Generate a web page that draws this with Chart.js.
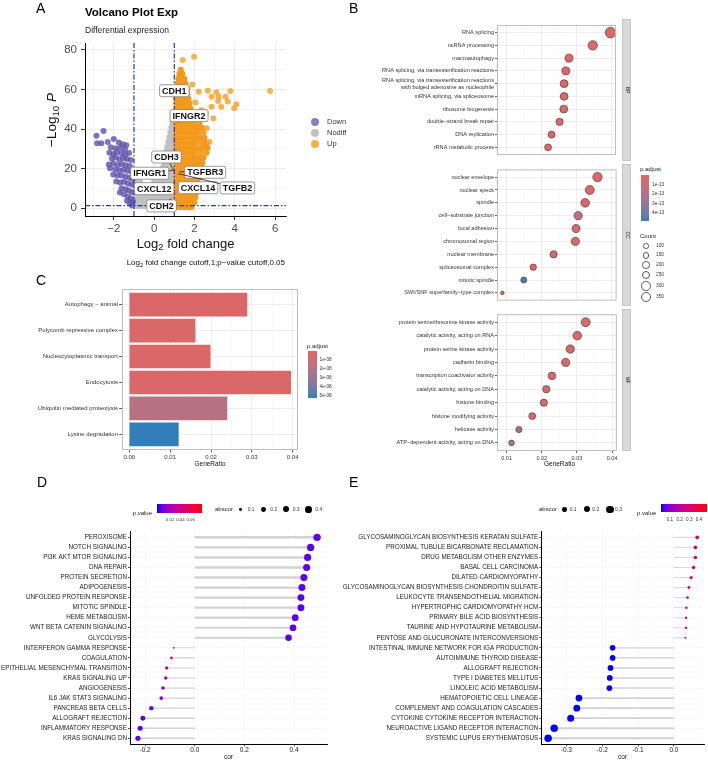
<!DOCTYPE html>
<html>
<head>
<meta charset="utf-8">
<title>Figure</title>
<script src="https://cdn.jsdelivr.net/npm/chart.js@4.4.1/dist/chart.umd.min.js"></script>
<style>
  body { margin: 0; background: #fff; }
  #fig { position: relative; width: 708px; height: 761px; overflow: hidden; font-family: 'Liberation Sans', Arial, Helvetica, sans-serif; color: #1a1a1a; }
  #fig canvas { position: absolute; }
  #fig div { position: absolute; white-space: nowrap; line-height: 1; }
  #fig sub { font-size: 0.72em; vertical-align: -0.3em; line-height: 0; }
</style>
</head>
<body>
<div id="fig"></div>
<script>
// ---------- A: volcano ----------
// down-regulated genes [log2FC, -log10 P]
const volcanoDown = [[-2.51,39.1],[-2.86,36.7],[-2.83,32.8],[-2.62,32.8],[-2.3,33.5],[-2.0,35.0],[-1.75,33.2],[-1.55,32.4],[-1.38,31.8],
  [-2.15,30.8],[-1.92,30.3],[-1.68,30.6],[-1.45,29.7],[-2.22,28.1],[-2.02,27.4],[-1.84,28.4],[-1.63,27.8],[-1.43,27.2],[-1.24,27.9],
  [-2.1,25.1],[-1.91,25.6],[-1.73,24.8],[-1.54,25.4],[-1.35,24.9],[-1.16,24.4],[-2.25,22.1],[-2.02,22.6],[-1.8,21.9],[-1.6,22.4],
  [-1.41,21.8],[-1.21,21.4],[-2.19,20.2],[-1.93,19.6],[-1.72,19.1],[-1.52,19.5],[-1.32,18.9],[-1.12,18.4],[-2.03,17.1],[-1.82,16.5],
  [-1.62,16.6],[-1.42,16.0],[-1.22,15.4],[-1.06,14.9],[-1.88,13.5],[-1.68,13.0],[-1.49,13.4],[-1.3,12.5],[-1.11,12.0],[-1.62,10.1],
  [-1.41,9.6],[-1.26,9.0],[-1.09,8.1],[-1.7,8.0],[-1.5,7.1],[-1.31,6.0],[-1.16,5.0],[-1.05,3.6],[-1.21,2.6],[-1.1,1.4],[-1.35,3.8]];
// not significant genes, rows of [-log10 P, log2FC...]
const volcanoNodiffRows = [
  [1, -0.9,-0.7,-0.5,-0.3,-0.1,0.1,0.3,0.5,0.7,0.88],
  [3.5, -0.85,-0.62,-0.42,-0.22,-0.02,0.18,0.38,0.58,0.78,0.92],
  [6, -0.9,-0.7,-0.5,-0.3,-0.1,0.1,0.3,0.5,0.7,0.9],
  [8.5, -0.8,-0.58,-0.38,-0.18,0.02,0.22,0.42,0.62,0.82,0.92],
  [11, -0.95,-0.75,-0.45,-0.15,0.1,0.3,0.5,0.7,0.9],
  [13.5, -0.92,-0.7,0.0,0.3,0.5,0.7,0.9],
  [16, -0.96,0.2,0.4,0.6,0.8,0.92],
  [18.5, 0.35,0.55,0.75,0.92],
  [21, 0.45,0.65,0.85],
  [23.5, 0.5,0.7,0.9],
  [26, 0.55,0.75,0.92],
  [28.5, 0.6,0.8,0.93],
  [31, 0.65,0.85],
  [33.5, 0.7,0.9],
  [36, 0.75,0.92],
  [38.5, 0.8,0.94],
  [41, 0.85,0.95],
  [43.5, 0.9],
  [46, 0.93]];
// up-regulated genes, dense part, rows of [-log10 P, log2FC...]
const volcanoUpRows = [
  [0.5, 1.1,1.3,1.5,1.7,1.85],
  [3, 1.1,1.3,1.5,1.7,1.9,2.0],
  [5.5, 1.1,1.3,1.5,1.7,1.9,2.05],
  [8, 1.1,1.3,1.5,1.7,1.9,2.1],
  [10.5, 1.1,1.3,1.5,1.7,1.9,2.1],
  [13, 1.1,1.3,1.5,1.7,1.9,2.15],
  [15.5, 1.1,1.3,1.5,1.7,1.9,2.1,2.25],
  [18, 1.1,1.3,1.5,1.7,1.9,2.1,2.3],
  [20.5, 1.1,1.3,1.5,1.7,1.9,2.1,2.35],
  [23, 1.1,1.3,1.5,1.7,1.9,2.1,2.3,2.4],
  [25.5, 1.1,1.3,1.5,1.7,1.9,2.1,2.3,2.45],
  [28, 1.1,1.3,1.5,1.7,1.9,2.1,2.3,2.5,2.6],
  [30.5, 1.1,1.3,1.5,1.7,1.9,2.1,2.3,2.5,2.65],
  [33, 1.1,1.3,1.5,1.7,1.9,2.1,2.3,2.5,2.6],
  [35.5, 1.1,1.3,1.5,1.7,1.9,2.1,2.3,2.5],
  [38, 1.1,1.3,1.5,1.7,1.9,2.1,2.3,2.45],
  [40.5, 1.1,1.3,1.5,1.7,1.9,2.1,2.3,2.4],
  [43, 1.1,1.3,1.5,1.7,1.9,2.1,2.25],
  [45.5, 1.1,1.3,1.5,1.7,1.9,2.05],
  [48, 1.1,1.3,1.5,1.7,1.9],
  [50.5, 1.1,1.3,1.5,1.7,1.8],
  [53, 1.1,1.3,1.5,1.7,1.75],
  [55.5, 1.1,1.3,1.5,1.7],
  [58, 1.1,1.3,1.5,1.65],
  [60.5, 1.1,1.3,1.5,1.65],
  [63, 1.15,1.35,1.55],
  [65.5, 1.2,1.35,1.5],
  [68, 1.25,1.4],
  [70, 1.32]];
// up-regulated genes, isolated points
const volcanoUpSparse = [[1.42,74.9],[1.98,76.6],[5.75,59.3],[2.21,58.9],[2.66,59.4],[3.09,58.6],[3.78,59.3],[2.85,56.4],[3.2,56.4],
  [3.54,56.4],[3.17,54.2],[3.65,53.9],[4.08,52.5],[2.85,51.3],[3.33,51.3],[3.97,50.5],[2.56,48.0],[2.93,45.5],[2.18,43.8],[2.61,40.4],
  [2.37,37.9],[2.21,32.5],[2.46,28.3],[2.18,27.8],[1.9,62.5],[2.05,53.5],[2.35,49.5],[2.75,33.5]];
const geneNames = ['CDH1','IFNGR2','CDH3','TGFBR3','IFNGR1','CXCL12','CXCL14','TGFB2','CDH2'];
const geneLabelX = [1.0, 1.73, 0.61, 2.53, -0.22, 0.0, 2.18, 4.13, 0.37];
const geneLabelY = [59.4, 46.8, 25.9, 18.2, 17.7, 9.9, 10.4, 10.3, 1.2];
const genePointX = [1.35, 1.15, 0.95, 1.25, 0.98, 0.98, 1.2, 1.2, 0.85];
const genePointY = [62.5, 43.5, 19.5, 18.5, 19.3, 10.5, 12, 17.5, 5];
const fcCutoff = 1;
const pCutoff = 0.05;
const volcanoXRange = [-3.43, 6.54];
const volcanoYRange = [-3.9, 83.5];
const volcanoXTicks = [-3, -2, -1, 0, 1, 2, 3, 4, 5, 6];
const volcanoXLabels = [-2, 0, 2, 4, 6];
const volcanoYTicks = [0, 10, 20, 30, 40, 50, 60, 70, 80];
const volcanoYLabels = [0, 20, 40, 60, 80];

// ---------- B: GO dot plot ----------
const bpTerms = ['RNA splicing', 'ncRNA processing', 'macroautophagy', 'RNA splicing, via transesterification reactions',
  ['RNA splicing, via transesterification reactions', 'with bulged adenosine as nucleophile'], 'mRNA splicing, via spliceosome',
  'ribosome biogenesis', 'double\u2212strand break repair', 'DNA replication', 'rRNA metabolic process'];
const bpRatio = [0.0398, 0.0347, 0.0279, 0.0270, 0.0265, 0.0265, 0.0264, 0.0252, 0.0229, 0.0219];
const bpCount = [385, 300, 220, 220, 215, 215, 215, 185, 170, 165];
const bpPadj = [0.2, 0.2, 0.3, 0.3, 0.3, 0.3, 0.3, 0.4, 0.4, 0.4]; // x 1e-13
const ccTerms = ['nuclear envelope', 'nuclear speck', 'spindle', 'cell\u2212substrate junction', 'focal adhesion', 'chromosomal region',
  'nuclear membrane', 'spliceosomal complex', 'mitotic spindle', 'SWI/SNF superfamily\u2212type complex'];
const ccRatio = [0.0359, 0.0337, 0.0324, 0.0304, 0.0298, 0.0296, 0.0234, 0.0176, 0.0149, 0.0088];
const ccCount = [300, 275, 255, 240, 220, 235, 185, 140, 125, 45];
const ccPadj = [0.3, 0.3, 0.4, 1.3, 0.9, 0.6, 0.4, 0.4, 4.8, 0.9];
const mfTerms = ['protein serine/threonine kinase activity', 'catalytic activity, acting on RNA', 'protein serine kinase activity',
  'cadherin binding', 'transcription coactivator activity', 'catalytic activity, acting on DNA', 'histone binding',
  'histone modifying activity', 'helicase activity', 'ATP\u2212dependent activity, acting on DNA'];
const mfRatio = [0.0325, 0.0301, 0.0281, 0.0268, 0.0229, 0.0213, 0.0206, 0.0173, 0.0135, 0.0114];
const mfCount = [275, 255, 240, 235, 200, 185, 180, 165, 135, 110];
const mfPadj = [0.4, 0.4, 0.5, 0.5, 0.5, 0.5, 0.6, 0.5, 2.8, 2.0];
const goPadjRange = [0, 5];
const goPadjLegend = ['1e-13', '2e-13', '3e-13', '4e-13'];
const goCountLegend = [100, 150, 200, 250, 300, 350];
const goXRange = [0.00727, 0.04136];
const goXTicks = [0.01, 0.015, 0.02, 0.025, 0.03, 0.035, 0.04];
const goXLabels = [0.01, 0.02, 0.03, 0.04];

// ---------- C: KEGG bar plot ----------
const keggTerms = ['Autophagy \u2212 animal', 'Polycomb repressive complex', 'Nucleocytoplasmic transport', 'Endocytosis',
  'Ubiquitin mediated proteolysis', 'Lysine degradation'];
const keggRatio = [0.0288, 0.0161, 0.0198, 0.0395, 0.0239, 0.0120];
const keggPadj = [0.3, 0.3, 0.3, 0.3, 1.8, 5.2]; // x 1e-8
const keggPadjRange = [0, 5.2];
const keggPadjLegend = ['1e-08', '2e-08', '3e-08', '4e-08', '5e-08'];
const keggXRange = [-0.0018, 0.0413];
const keggXTicks = [0, 0.005, 0.01, 0.015, 0.02, 0.025, 0.03, 0.035, 0.04];
const keggXLabels = [0, 0.01, 0.02, 0.03, 0.04];

// ---------- D: hallmark correlation ----------
const hallTerms = ['PEROXISOME', 'NOTCH SIGNALING', 'PI3K AKT MTOR SIGNALING', 'DNA REPAIR', 'PROTEIN SECRETION', 'ADIPOGENESIS',
  'UNFOLDED PROTEIN RESPONSE', 'MITOTIC SPINDLE', 'HEME METABOLISM', 'WNT BETA CATENIN SIGNALING', 'GLYCOLYSIS',
  'INTERFERON GAMMA RESPONSE', 'COAGULATION', 'EPITHELIAL MESENCHYMAL TRANSITION', 'KRAS SIGNALING UP', 'ANGIOGENESIS',
  'IL6 JAK STAT3 SIGNALING', 'PANCREAS BETA CELLS', 'ALLOGRAFT REJECTION', 'INFLAMMATORY RESPONSE', 'KRAS SIGNALING DN'];
const hallCor = [0.493, 0.467, 0.455, 0.451, 0.440, 0.432, 0.428, 0.428, 0.405, 0.396, 0.378,
  -0.085, -0.094, -0.113, -0.117, -0.128, -0.135, -0.175, -0.209, -0.220, -0.229];
const hallPval = [0.0005, 0.0005, 0.0005, 0.0005, 0.0005, 0.0005, 0.0005, 0.0005, 0.0005, 0.0005, 0.0005,
  0.082, 0.075, 0.03, 0.027, 0.016, 0.013, 0.004, 0.001, 0.001, 0.001];
const hallPRange = [-0.006, 0.0824];
const hallPLegend = [0.02, 0.04, 0.06];
const hallAbsLegend = [0.1, 0.2, 0.3, 0.4];
const hallXRange = [-0.261, 0.533];
const hallXTicks = [-0.2, 0, 0.2, 0.4];

// ---------- E: KEGG correlation ----------
const keggCorTerms = ['GLYCOSAMINOGLYCAN BIOSYNTHESIS KERATAN SULFATE', 'PROXIMAL TUBULE BICARBONATE RECLAMATION',
  'DRUG METABOLISM OTHER ENZYMES', 'BASAL CELL CARCINOMA', 'DILATED CARDIOMYOPATHY',
  'GLYCOSAMINOGLYCAN BIOSYNTHESIS CHONDROITIN SULFATE', 'LEUKOCYTE TRANSENDOTHELIAL MIGRATION',
  'HYPERTROPHIC CARDIOMYOPATHY HCM', 'PRIMARY BILE ACID BIOSYNTHESIS', 'TAURINE AND HYPOTAURINE METABOLISM',
  'PENTOSE AND GLUCURONATE INTERCONVERSIONS', 'INTESTINAL IMMUNE NETWORK FOR IGA PRODUCTION', 'AUTOIMMUNE THYROID DISEASE',
  'ALLOGRAFT REJECTION', 'TYPE I DIABETES MELLITUS', 'LINOLEIC ACID METABOLISM', 'HEMATOPOIETIC CELL LINEAGE',
  'COMPLEMENT AND COAGULATION CASCADES', 'CYTOKINE CYTOKINE RECEPTOR INTERACTION', 'NEUROACTIVE LIGAND RECEPTOR INTERACTION',
  'SYSTEMIC LUPUS ERYTHEMATOSUS'];
const keggCor = [0.065, 0.060, 0.060, 0.055, 0.048, 0.042, 0.038, 0.035, 0.034, 0.034, 0.032,
  -0.171, -0.171, -0.177, -0.179, -0.180, -0.265, -0.271, -0.288, -0.334, -0.351];
const keggPval = [0.26, 0.28, 0.29, 0.32, 0.35, 0.38, 0.40, 0.42, 0.46, 0.47, 0.48,
  0.002, 0.002, 0.002, 0.002, 0.002, 0.001, 0.001, 0.001, 0.001, 0.001];
const keggPRange = [0.004, 0.48];
const keggPLegend = [0.1, 0.2, 0.3, 0.4];
const keggAbsLegend = [0.1, 0.2, 0.3];
const keggCorXRange = [-0.37, 0.084];
const keggCorXTicks = [-0.3, -0.2, -0.1, 0];

// ---------- helpers ----------
const FONT = "'Liberation Sans', Arial, Helvetica, sans-serif";
Chart.defaults.font.family = FONT;
Chart.defaults.animation = false;
Chart.defaults.events = [];
Chart.defaults.plugins.legend.display = false;
Chart.defaults.plugins.tooltip.enabled = false;

const fig = document.getElementById('fig');
const near = (arr, v) => arr.some(a => Math.abs(a - v) < 1e-9);
const setTicks = vals => s => { s.ticks = vals.map(v => ({ value: v })); };
const fixX = h => s => { s.height = h; s.paddingLeft = 0; s.paddingRight = 0; };
const fixY = w => s => { s.width = w; s.paddingTop = 0; s.paddingBottom = 0; };
const rows = r => r.flatMap(([y, ...xs]) => xs.map(x => ({ x, y })));
const pairs = p => p.map(([x, y]) => ({ x, y }));

function canvasAt(x, y, w, h) {
  const c = document.createElement('canvas');
  c.width = w; c.height = h;
  c.style.left = x + 'px'; c.style.top = y + 'px';
  c.style.width = w + 'px'; c.style.height = h + 'px';
  fig.appendChild(c);
  return c;
}
function put(html, x, y, size, anchor, extra) {
  const d = document.createElement('div');
  const tx = anchor === 'c' ? '-50%' : anchor === 'r' ? '-100%' : '0';
  d.style.cssText = `left:${x}px;top:${y}px;font-size:${size}px;transform:translate(${tx},-50%);${extra || ''}`;
  d.innerHTML = html;
  fig.appendChild(d);
  return d;
}
function box(x, y, w, h, css) {
  const d = document.createElement('div');
  d.style.cssText = `left:${x}px;top:${y}px;width:${w}px;height:${h}px;${css}`;
  fig.appendChild(d);
  return d;
}

// colour ramps interpolated in CIELAB, like ggplot's gradients
function toLab(hex) {
  const [r, g, b] = [1, 3, 5].map(i => parseInt(hex.slice(i, i + 2), 16) / 255)
    .map(c => c <= 0.04045 ? c / 12.92 : Math.pow((c + 0.055) / 1.055, 2.4));
  const X = (0.4124 * r + 0.3576 * g + 0.1805 * b) / 0.95047;
  const Y = 0.2126 * r + 0.7152 * g + 0.0722 * b;
  const Z = (0.0193 * r + 0.1192 * g + 0.9505 * b) / 1.08883;
  const f = t => t > 0.008856 ? Math.cbrt(t) : 7.787 * t + 16 / 116;
  return [116 * f(Y) - 16, 500 * (f(X) - f(Y)), 200 * (f(Y) - f(Z))];
}
function fromLab([L, a, bb]) {
  const fy = (L + 16) / 116, fx = fy + a / 500, fz = fy - bb / 200;
  const inv = t => t * t * t > 0.008856 ? t * t * t : (t - 16 / 116) / 7.787;
  const X = inv(fx) * 0.95047, Y = inv(fy), Z = inv(fz) * 1.08883;
  const lin = [3.2406 * X - 1.5372 * Y - 0.4986 * Z, -0.9689 * X + 1.8758 * Y + 0.0415 * Z, 0.0557 * X - 0.2040 * Y + 1.0570 * Z];
  return lin.map(c => {
    c = Math.max(0, c);
    c = c <= 0.0031308 ? 12.92 * c : 1.055 * Math.pow(c, 1 / 2.4) - 0.055;
    return Math.round(Math.max(0, Math.min(1, c)) * 255);
  });
}
function labRamp(lo, hi) {
  const a = toLab(lo), b = toLab(hi);
  return t => {
    t = Math.max(0, Math.min(1, t));
    return `rgb(${fromLab(a.map((v, i) => v + (b[i] - v) * t)).join(',')})`;
  };
}
const goRamp = labRamp('#e06663', '#327eba');
const pvRamp = labRamp('#0000ff', '#ff0000');
function gradCss(ramp, dir) {
  const stops = [];
  for (let k = 0; k <= 10; k++) stops.push(ramp(k / 10));
  return `linear-gradient(${dir}, ${stops.join(',')})`;
}

const framePlugin = {
  id: 'frame',
  afterDraw(chart) {
    const a = chart.chartArea, ctx = chart.ctx;
    ctx.save();
    ctx.strokeStyle = '#BDBDBD';
    ctx.lineWidth = 1;
    ctx.strokeRect(a.left + 0.5, a.top + 0.5, a.right - a.left - 1, a.bottom - a.top - 1);
    ctx.restore();
  }
};

// ---------- A ----------
const geneLabelPlugin = {
  id: 'geneLabels',
  afterDatasetsDraw(chart) {
    const ctx = chart.ctx, xs = chart.scales.x, ys = chart.scales.y;
    ctx.save();
    ctx.font = `bold 9px ${FONT}`;
    ctx.textAlign = 'center';
    ctx.textBaseline = 'middle';
    geneNames.forEach((name, i) => {
      const lx = xs.getPixelForValue(geneLabelX[i]), ly = ys.getPixelForValue(geneLabelY[i]);
      const px = xs.getPixelForValue(genePointX[i]), py = ys.getPixelForValue(genePointY[i]);
      ctx.strokeStyle = '#1a1a1a'; ctx.lineWidth = 0.8;
      ctx.beginPath(); ctx.moveTo(lx, ly); ctx.lineTo(px, py); ctx.stroke();
      const w = ctx.measureText(name).width + 5, h = 12;
      ctx.beginPath();
      if (ctx.roundRect) ctx.roundRect(lx - w / 2, ly - h / 2, w, h, 2); else ctx.rect(lx - w / 2, ly - h / 2, w, h);
      ctx.fillStyle = '#fff'; ctx.fill();
      ctx.strokeStyle = '#808080'; ctx.lineWidth = 0.8; ctx.stroke();
      ctx.fillStyle = '#111';
      ctx.fillText(name, lx, ly + 0.5);
    });
    ctx.restore();
  }
};

const pY = -Math.log10(pCutoff);
const cutStyle = { showLine: true, borderColor: '#2B33D9', borderWidth: 1.2, borderDash: [5, 2, 1.5, 2], pointRadius: 0 };
const downColor = 'rgba(96,80,172,0.8)', nodiffColor = 'rgb(192,192,192)', upColor = 'rgb(244,153,28)', upSparseColor = 'rgba(246,165,48,0.85)';
const minusFmt = v => v < 0 ? '\u2212' + Math.abs(v) : String(v);

new Chart(canvasAt(0, 0, 354, 250), {
  type: 'scatter',
  data: {
    datasets: [
      { ...cutStyle, data: [{ x: -fcCutoff, y: volcanoYRange[0] }, { x: -fcCutoff, y: volcanoYRange[1] }] },
      { ...cutStyle, data: [{ x: fcCutoff, y: volcanoYRange[0] }, { x: fcCutoff, y: volcanoYRange[1] }] },
      { ...cutStyle, data: [{ x: volcanoXRange[0], y: pY }, { x: volcanoXRange[1], y: pY }] },
      { data: pairs(volcanoUpSparse), backgroundColor: upSparseColor, pointRadius: 3, borderWidth: 0 },
      { data: rows(volcanoUpRows), backgroundColor: upColor, pointRadius: 3, borderWidth: 0 },
      { data: pairs(volcanoDown), backgroundColor: downColor, pointRadius: 3, borderWidth: 0 },
      { data: rows(volcanoNodiffRows), backgroundColor: nodiffColor, pointRadius: 3, borderWidth: 0 }
    ]
  },
  options: {
    responsive: false,
    layout: { padding: { left: 0, top: 43, right: 68, bottom: 14 } },
    scales: {
      x: {
        type: 'linear', min: volcanoXRange[0], max: volcanoXRange[1],
        afterBuildTicks: setTicks(volcanoXTicks), afterFit: fixX(20),
        ticks: { callback: v => near(volcanoXLabels, v) ? minusFmt(v) : '', color: '#4d4d4d', font: { size: 11.5 }, padding: 2, autoSkip: false, maxRotation: 0 },
        grid: {
          color: '#EBEBEB', lineWidth: c => c.tick && near(volcanoXLabels, c.tick.value) ? 1 : 0.6,
          tickLength: 4, tickWidth: 1, tickColor: c => c.tick && near(volcanoXLabels, c.tick.value) ? '#333' : 'rgba(0,0,0,0)'
        },
        border: { color: '#000', width: 1 }
      },
      y: {
        type: 'linear', min: volcanoYRange[0], max: volcanoYRange[1],
        afterBuildTicks: setTicks(volcanoYTicks), afterFit: fixY(85),
        ticks: { callback: v => near(volcanoYLabels, v) ? String(v) : '', color: '#4d4d4d', font: { size: 11.5 }, padding: 4, autoSkip: false },
        grid: {
          color: '#EBEBEB', lineWidth: c => c.tick && near(volcanoYLabels, c.tick.value) ? 1 : 0.6,
          tickLength: 4, tickWidth: 1, tickColor: c => c.tick && near(volcanoYLabels, c.tick.value) ? '#333' : 'rgba(0,0,0,0)'
        },
        border: { color: '#000', width: 1 }
      }
    }
  },
  plugins: [geneLabelPlugin]
});

put('Volcano Plot Exp', 85, 12.5, 11.5, 'l', 'font-weight:bold;color:#000');
put('Differential expression', 85, 30, 8.5, 'l', 'color:#222');
put('\u2212Log<sub>10</sub> <i>P</i>', 52, 120, 13.5, 'c', 'transform:translate(-50%,-50%) rotate(-90deg);color:#111');
put('Log<sub>2</sub> fold change', 185.5, 243, 13, 'c', 'color:#111');
put('Log<sub>2</sub> fold change cutoff,1;p\u2212value cutoff,0.05', 285, 263, 8, 'r', 'color:#111');
[['Down', 'rgba(110,96,180,0.8)'], ['Nodiff', nodiffColor], ['Up', 'rgba(246,165,48,0.9)']].forEach(([name, col], i) => {
  box(311, 118 + i * 11, 8, 8, `border-radius:50%;background:${col}`);
  put(name, 327, 122 + i * 11, 7.5, 'l', 'color:#333');
});

// ---------- B ----------
const countRadius = c => 0.27 * Math.sqrt(c);
function goFacet(top, terms, ratio, count, padj, withAxis) {
  const n = terms.length;
  const h = 142 + (withAxis ? 13 : 0);
  return new Chart(canvasAt(354, top, 268, h), {
    type: 'scatter',
    data: {
      datasets: [{
        data: ratio.map((v, i) => ({ x: v, y: n - i })),
        pointRadius: count.map(countRadius),
        backgroundColor: padj.map(p => goRamp((p - goPadjRange[0]) / (goPadjRange[1] - goPadjRange[0]))),
        borderColor: 'rgba(70,45,45,0.85)', borderWidth: 0.7
      }]
    },
    options: {
      responsive: false,
      layout: { padding: 0 },
      scales: {
        x: {
          type: 'linear', min: goXRange[0], max: goXRange[1],
          afterBuildTicks: setTicks(goXTicks), afterFit: fixX(withAxis ? 13 : 0),
          ticks: { display: withAxis, callback: v => near(goXLabels, v) ? v.toFixed(2) : '', color: '#333', font: { size: 5.5 }, padding: 2, autoSkip: false, maxRotation: 0 },
          grid: {
            color: c => c.tick && near(goXLabels, c.tick.value) ? '#EBEBEB' : '#F3F3F3',
            lineWidth: c => c.tick && near(goXLabels, c.tick.value) ? 0.9 : 0.5,
            drawTicks: withAxis, tickLength: 2, tickWidth: 0.8,
            tickColor: c => c.tick && near(goXLabels, c.tick.value) ? '#333' : 'rgba(0,0,0,0)'
          },
          border: { display: false }
        },
        y: {
          type: 'linear', min: 0.4, max: n + 0.6,
          afterBuildTicks: setTicks(terms.map((t, i) => n - i)), afterFit: fixY(143),
          ticks: { callback: v => terms[n - Math.round(v)], color: '#333', font: { size: 5.6, lineHeight: 1.3 }, padding: 1, autoSkip: false },
          grid: { color: '#EBEBEB', lineWidth: 0.9, tickLength: 2, tickWidth: 0.8, tickColor: '#333' },
          border: { display: false }
        }
      }
    },
    plugins: [framePlugin]
  });
}
goFacet(19, bpTerms, bpRatio, bpCount, bpPadj, false);
goFacet(164, ccTerms, ccRatio, ccCount, ccPadj, false);
goFacet(309, mfTerms, mfRatio, mfCount, mfPadj, true);

[['BP', 19], ['CC', 164], ['MF', 309]].forEach(([name, top]) => {
  box(622, top, 9, 142, 'background:#D9D9D9;box-sizing:border-box;border:0.5px solid #C4C4C4');
  put(name, 626.5, top + 71, 5, 'c', 'transform:translate(-50%,-50%) rotate(90deg);color:#1a1a1a');
});
put('GeneRatio', 559.5, 463.5, 6.5, 'c', 'color:#111');
put('p.adjust', 640, 169, 6, 'l', 'color:#1a1a1a');
box(641, 175, 8, 46, `background:${gradCss(goRamp, 'to bottom')}`);
goPadjLegend.forEach((lab, i) => put(lab, 652, 185 + i * 9.3, 4.8, 'l', 'color:#333'));
put('Count', 640, 236, 6, 'l', 'color:#1a1a1a');
const countLegendY = [246, 255.3, 264.7, 275, 286, 297.3];
goCountLegend.forEach((c, i) => {
  const r = countRadius(c);
  box(646 - r, countLegendY[i] - r, 2 * r, 2 * r, 'box-sizing:border-box;border:0.7px solid #555;border-radius:50%;background:#fff');
  put(String(c), 656, countLegendY[i], 4.8, 'l', 'color:#333');
});

// ---------- C ----------
const nK = keggTerms.length;
new Chart(canvasAt(0, 280, 354, 180), {
  type: 'bar',
  data: {
    datasets: [{
      data: keggRatio.map((v, i) => ({ x: v, y: nK - i })),
      backgroundColor: keggPadj.map(p => goRamp((p - keggPadjRange[0]) / (keggPadjRange[1] - keggPadjRange[0]))),
      barThickness: 23, borderWidth: 0
    }]
  },
  options: {
    responsive: false,
    indexAxis: 'y',
    layout: { padding: { left: 0, top: 9, right: 56, bottom: 0 } },
    scales: {
      x: {
        type: 'linear', min: keggXRange[0], max: keggXRange[1],
        afterBuildTicks: setTicks(keggXTicks), afterFit: fixX(10),
        ticks: { callback: v => near(keggXLabels, v) ? v.toFixed(2) : '', color: '#333', font: { size: 6 }, padding: 1.5, autoSkip: false, maxRotation: 0 },
        grid: {
          color: c => c.tick && near(keggXLabels, c.tick.value) ? '#EBEBEB' : '#F3F3F3',
          lineWidth: c => c.tick && near(keggXLabels, c.tick.value) ? 0.9 : 0.5,
          tickLength: 2.5, tickWidth: 0.8, tickColor: c => c.tick && near(keggXLabels, c.tick.value) ? '#333' : 'rgba(0,0,0,0)'
        },
        border: { display: false }
      },
      y: {
        type: 'linear', min: 0.4, max: nK + 0.6, offset: false,
        afterBuildTicks: setTicks(keggTerms.map((t, i) => nK - i)), afterFit: fixY(122),
        ticks: { callback: v => keggTerms[nK - Math.round(v)], color: '#333', font: { size: 6 }, padding: 1, autoSkip: false },
        grid: { offset: false, color: '#EBEBEB', lineWidth: 0.9, tickLength: 3, tickWidth: 0.8, tickColor: '#333' },
        border: { display: false }
      }
    }
  },
  plugins: [framePlugin]
});
put('GeneRatio', 210, 463.5, 6.5, 'c', 'color:#111');
put('p.adjust', 307, 346, 6, 'l', 'color:#1a1a1a');
box(308, 351, 9, 47, `background:${gradCss(goRamp, 'to bottom')}`);
keggPadjLegend.forEach((lab, i) => put(lab, 319.5, 360 + i * 9, 4.8, 'l', 'color:#333'));

// ---------- D and E ----------
function sizeScale(values, rMax) {
  const abs = values.map(Math.abs), lo = Math.min(...abs), hi = Math.max(...abs);
  return a => rMax * (1.5 + 4.5 * Math.sqrt(Math.max(0, (a - lo) / (hi - lo)))) / 6;
}
function lollipop(left, width, terms, cor, pval, pRange, sizeOf, xRange, xTicks, yW, padRight) {
  const n = terms.length;
  const stems = cor.map((v, i) => ({
    data: [{ x: 0, y: n - i }, { x: v, y: n - i }], showLine: true, pointRadius: 0,
    borderColor: '#D2D2D2', borderWidth: 0.7 + 3.8 * Math.abs(v), borderCapStyle: 'butt'
  }));
  const dots = {
    data: cor.map((v, i) => ({ x: v, y: n - i })),
    pointRadius: cor.map(v => sizeOf(Math.abs(v))),
    backgroundColor: pval.map(p => pvRamp((p - pRange[0]) / (pRange[1] - pRange[0]))),
    borderWidth: 0
  };
  return new Chart(canvasAt(left, 520, width, 241), {
    type: 'scatter',
    data: { datasets: [dots, ...stems] },
    options: {
      responsive: false,
      layout: { padding: { left: 0, top: 11.3, right: padRight, bottom: 0 } },
      scales: {
        x: {
          type: 'linear', min: xRange[0], max: xRange[1],
          afterBuildTicks: setTicks(xTicks), afterFit: fixX(16.7),
          ticks: { callback: v => v.toFixed(1), color: '#222', font: { size: 6.5 }, padding: 0.5, autoSkip: false, maxRotation: 0 },
          grid: { color: '#E2E2E2', lineWidth: 0.7, tickLength: 2, tickWidth: 0.8, tickColor: '#222' },
          border: { color: '#000', width: 1, dash: [1, 2] }
        },
        y: {
          type: 'linear', min: 0.4, max: n + 0.6,
          afterBuildTicks: setTicks(terms.map((t, i) => n - i)), afterFit: fixY(yW),
          ticks: { callback: v => terms[n - Math.round(v)], color: '#1a1a1a', font: { size: 6.3 }, padding: 1, autoSkip: false },
          grid: { color: '#E2E2E2', lineWidth: 0.7, tickLength: 2, tickWidth: 0.8, tickColor: '#222' },
          border: { color: '#000', width: 1, dash: [1, 2] }
        }
      }
    }
  });
}
const hallSize = sizeScale(hallCor, 3.7);
const keggSize = sizeScale(keggCor, 3.8);
lollipop(0, 340, hallTerms, hallCor, hallPval, hallPRange, hallSize, hallXRange, hallXTicks, 130, 13);
lollipop(340, 368, keggCorTerms, keggCor, keggPval, keggPRange, keggSize, keggCorXRange, keggCorXTicks, 201.3, 4);
put('cor', 228.5, 757, 6.5, 'c', 'color:#111');
put('cor', 622.6, 757, 6.5, 'c', 'color:#111');

// D legends
put('p.value', 132.7, 513, 6, 'l', 'color:#1a1a1a');
box(156.7, 504.3, 45.6, 9, `background:${gradCss(pvRamp, 'to right')}`);
hallPLegend.forEach(v => put(v.toFixed(2), 156.7 + (v - hallPRange[0]) / (hallPRange[1] - hallPRange[0]) * 45.6, 519.5, 4.4, 'c', 'color:#333'));
put('abscor', 215, 509.3, 6, 'l', 'color:#1a1a1a');
const hallDotX = [240.7, 263.3, 285.7, 308.3];
hallAbsLegend.forEach((a, i) => {
  const r = hallSize(a);
  box(hallDotX[i] - r, 509.3 - r, 2 * r, 2 * r, 'border-radius:50%;background:#000');
  put(a.toFixed(1), hallDotX[i] + 7, 509.3, 5, 'l', 'color:#333');
});

// E legends
put('abscor', 539, 509.3, 6, 'l', 'color:#1a1a1a');
const keggDotX = [564.7, 587.3, 610];
keggAbsLegend.forEach((a, i) => {
  const r = keggSize(a);
  box(keggDotX[i] - r, 509.3 - r, 2 * r, 2 * r, 'border-radius:50%;background:#000');
  put(a.toFixed(1), keggDotX[i] + 5, 509.3, 5, 'l', 'color:#333');
});
put('p.value', 637, 513, 6, 'l', 'color:#1a1a1a');
box(660.7, 504.3, 46, 7.5, `background:${gradCss(pvRamp, 'to right')}`);
keggPLegend.forEach(v => put(v.toFixed(1), 660.7 + (v - keggPRange[0]) / (keggPRange[1] - keggPRange[0]) * 46, 519.5, 4.6, 'c', 'color:#333'));

// panel letters
[['A', 36, 8], ['B', 349, 8], ['C', 36, 280], ['D', 37, 482], ['E', 349, 482]].forEach(([t, x, y]) => put(t, x, y, 14, 'l', 'color:#000'));
</script>
</body>
</html>
